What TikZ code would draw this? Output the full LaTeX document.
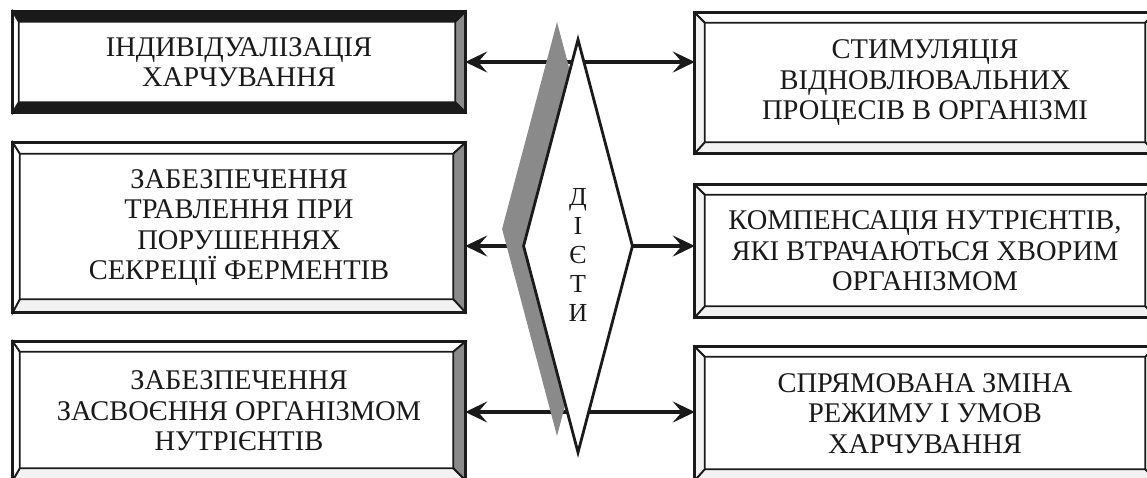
\documentclass[tikz,border=0pt]{standalone}
\usepackage{fontspec}
\setmainfont{Liberation Serif}
\usetikzlibrary{shapes.geometric,arrows.meta,calc}
\definecolor{ink}{HTML}{1A1A1A}
\definecolor{band}{HTML}{8A8A8A}
\definecolor{lite}{HTML}{F2F2F2}
\newcommand\bevelframe[9]{%
 \coordinate (#1-ia) at ([shift={(#2,#3)}]#1.north west);
 \coordinate (#1-ib) at ([shift={(-#4,#3)}]#1.north east);
 \coordinate (#1-ic) at ([shift={(-#4,-#5)}]#1.south east);
 \coordinate (#1-id) at ([shift={(#2,-#5)}]#1.south west);
 \filldraw[fill=#6,bline] (#1.north west) -- (#1.north east) -- (#1-ib) -- (#1-ia) -- cycle;
 \filldraw[fill=#7,bline] (#1.north east) -- (#1.south east) -- (#1-ic) -- (#1-ib) -- cycle;
 \filldraw[fill=#8,bline] (#1.south east) -- (#1.south west) -- (#1-id) -- (#1-ic) -- cycle;
 \filldraw[fill=#9,bline] (#1.south west) -- (#1.north west) -- (#1-ia) -- (#1-id) -- cycle;
 \draw[ink,line width=3pt] (#1.north west) rectangle (#1.south east);
}
\begin{document}
\begin{tikzpicture}[x=1pt,y=-1pt,
  bline/.style={draw=ink,line width=1.8pt,line join=miter},
  box/.style={inner sep=0pt,align=center,text=ink,font=\fontsize{28.5}{30.5}\selectfont},
  arr/.style={draw=ink,line width=3.2pt,-{Stealth[length=22pt,width=21pt,inset=9pt]}}]
\clip (0,0) rectangle (1147,477);
\fill[white] (0,0) rectangle (1147,477);
% boxes
\node[box,minimum width=452pt,minimum height=100pt] (l1) at (239,62) {ІНДИВІДУАЛІЗАЦІЯ\\ХАРЧУВАННЯ};
\node[box,minimum width=452pt,minimum height=169pt] (l2) at (239,227.5) {ЗАБЕЗПЕЧЕННЯ\\ТРАВЛЕННЯ ПРИ\\ПОРУШЕННЯХ\\СЕКРЕЦІЇ ФЕРМЕНТІВ};
\node[box,minimum width=452pt,minimum height=138pt] (l3) at (239,411) {ЗАБЕЗПЕЧЕННЯ\\ЗАСВОЄННЯ ОРГАНІЗМОМ\\НУТРІЄНТІВ};
\node[box,minimum width=460pt,minimum height=140pt] (r1) at (925,83) {СТИМУЛЯЦІЯ\\ВІДНОВЛЮВАЛЬНИХ\\ПРОЦЕСІВ В ОРГАНІЗМІ};
\node[box,minimum width=460pt,minimum height=132pt] (r2) at (925,251) {КОМПЕНСАЦІЯ НУТРІЄНТІВ,\\ЯКІ ВТРАЧАЮТЬСЯ ХВОРИМ\\ОРГАНІЗМОМ};
\node[box,minimum width=460pt,minimum height=133pt] (r3) at (925,413.5) {СПРЯМОВАНА ЗМІНА\\РЕЖИМУ І УМОВ\\ХАРЧУВАННЯ};
\bevelframe{l1}{6}{10}{10}{10}{ink}{band}{ink}{white}
\bevelframe{l2}{7}{11}{12}{13}{white}{band}{lite}{white}
\bevelframe{l3}{7}{10}{12}{12}{white}{band}{lite}{white}
\bevelframe{r1}{10}{10}{10}{11}{white}{lite}{lite}{lite}
\bevelframe{r2}{10}{10}{10}{11}{white}{lite}{lite}{lite}
\bevelframe{r3}{10}{10}{10}{11}{white}{lite}{lite}{lite}
% connectors
\coordinate (t) at (578,62);
\coordinate (b) at (578,412);
\node[diamond,minimum width=110pt,minimum height=414pt,inner sep=0pt] (dia) at (578,246) {};
\draw[arr] (t) -- (t -| l1.east);
\draw[arr] (t) -- (t -| r1.west);
\draw[arr] (b) -- (b -| l3.east);
\draw[arr] (b) -- (b -| r3.west);
\draw[arr] (dia.west) -- (dia.west -| l2.east);
\draw[arr] (dia.east) -- (dia.east -| r2.west);
% shadow and diamond
\node[diamond,minimum width=110pt,minimum height=414pt,inner sep=0pt,fill=band] (sh) at (557,229) {};
\node[diamond,minimum width=110pt,minimum height=414pt,inner sep=0pt,fill=white,draw=ink,line width=2.8pt] (dia2) at (578,246) {};
\node[align=center,text=ink,font=\fontsize{26}{29}\selectfont,inner sep=0pt] (dt) at (578,255) {Д\\І\\Є\\Т\\И};
\end{tikzpicture}
\end{document}
